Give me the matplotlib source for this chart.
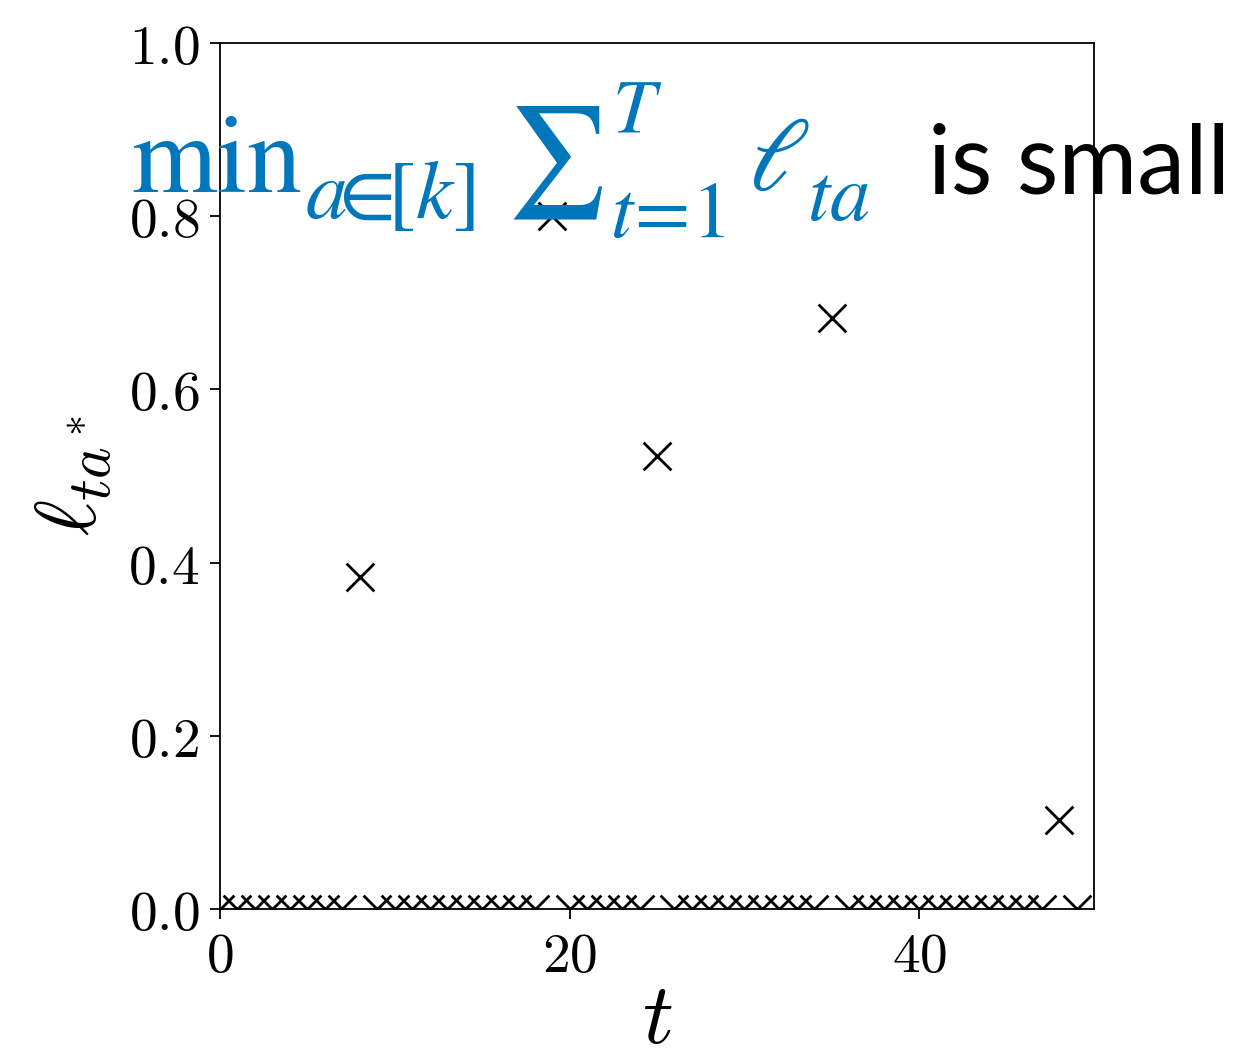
import numpy as np
import matplotlib
matplotlib.use("Agg")
import matplotlib.pyplot as plt
from matplotlib.ticker import FuncFormatter

plt.rcParams["mathtext.fontset"] = "cm"

# loss of the best arm at each round: mostly zero, a few spikes
t = np.arange(50)
loss = np.zeros(50)
spike_rounds = [8, 19, 25, 35, 48]
spike_values = [0.383, 0.800, 0.523, 0.682, 0.103]
loss[spike_rounds] = spike_values

x_ticks = [0, 20, 40]
y_ticks = [0.0, 0.2, 0.4, 0.6, 0.8, 1.0]

W, H = 1246, 1059
fig = plt.figure(figsize=(W / 100, H / 100), dpi=100)
ax = fig.add_axes([220 / W, 1 - 909 / H, 874 / W, 866 / H])

ax.scatter(t, loss, marker="x", s=20**2, color="black", linewidths=2.0)

ax.set_xlim(0, 50)
ax.set_ylim(0, 1)
ax.set_xticks(x_ticks)
ax.set_yticks(y_ticks)
ax.xaxis.set_major_formatter(FuncFormatter(lambda v, p: r"$%d$" % v))
ax.yaxis.set_major_formatter(FuncFormatter(lambda v, p: r"$%.1f$" % v))
ax.tick_params(labelsize=40, length=7, width=1.3, pad=8)
for s in ax.spines.values():
    s.set_linewidth(1.3)

ax.set_xlabel(r"$t$", fontsize=62, labelpad=-4)
ax.set_ylabel(r"$\ell_{ta^*}$", fontsize=62, labelpad=10)


# caption pieces, placed in pixel coordinates of the figure
def put(px, py, s, size, **kw):
    kw.setdefault("va", "baseline")
    kw.setdefault("color", "#0077BB")
    fig.text(px / W, 1 - py / H, s, fontsize=size, ha="left", **kw)


stix = dict(math_fontfamily="stix")
put(131, 192, r"$\mathrm{min}$", 79, **stix)
put(305, 218, r"$a\!\!\in\!\![k]$", 60, **stix)
put(506, 105, r"$\sum$", 80, va="top", **stix)
put(612, 133, r"$T$", 55, **stix)
put(610, 237, r"$t\!=\!1$", 58, **stix)
put(748, 190, r"$\ell$", 75, **stix)
put(807, 220, r"$ta$", 58, **stix)
put(928, 193, "is small", 69, family="Lato", color="black")

fig.savefig("out.png", dpi=100)
